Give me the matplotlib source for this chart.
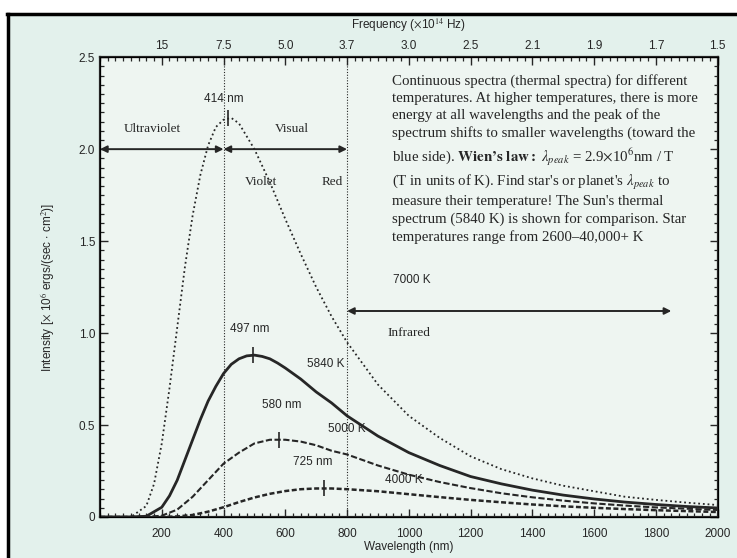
import matplotlib.pyplot as plt
from matplotlib.lines import Line2D
from matplotlib.patches import Rectangle
from matplotlib.ticker import MultipleLocator

# wavelengths (nm) and intensities
wl_7000 = [0, 100, 150, 175, 200, 225, 250, 275, 300, 325, 350, 375, 400, 425, 450, 500, 550, 600,
           650, 700, 750, 800, 900, 1000, 1100, 1200, 1300, 1400, 1500, 1600, 1700, 1800, 1900, 2000]
t7000 = [0.0, 0.0, 0.06, 0.18, 0.40, 0.70, 1.03, 1.36, 1.64, 1.86, 2.02, 2.12, 2.16, 2.17, 2.14, 2.00,
         1.82, 1.62, 1.43, 1.25, 1.09, 0.95, 0.72, 0.55, 0.43, 0.33, 0.26, 0.21, 0.17, 0.14, 0.11,
         0.093, 0.078, 0.065]
wl_5840 = [0, 100, 150, 200, 225, 250, 275, 300, 325, 350, 375, 400, 425, 450, 475, 500, 525, 550,
           575, 600, 650, 700, 750, 800, 900, 1000, 1100, 1200, 1300, 1400, 1500, 1600, 1700, 1800,
           1900, 2000]
t5840 = [0.0, 0.0, 0.004, 0.053, 0.115, 0.20, 0.31, 0.42, 0.53, 0.63, 0.71, 0.78, 0.83, 0.86, 0.876,
         0.88, 0.873, 0.86, 0.837, 0.81, 0.75, 0.68, 0.62, 0.55, 0.44, 0.35, 0.28, 0.22, 0.18, 0.146,
         0.119, 0.098, 0.081, 0.068, 0.057, 0.049]
wavelength = [0, 100, 150, 200, 250, 300, 350, 400, 450, 500, 550, 600, 650, 700, 750,
              800, 900, 1000, 1100, 1200, 1300, 1400, 1500, 1600, 1700, 1800, 1900, 2000]
t5000 = [0.0, 0.0, 0.0, 0.007, 0.04, 0.11, 0.20, 0.29, 0.35, 0.40, 0.42, 0.42, 0.41, 0.39, 0.36,
         0.34, 0.28, 0.23, 0.19, 0.157, 0.129, 0.107, 0.089, 0.074, 0.062, 0.052, 0.045, 0.038]
t4000 = [0.0, 0.0, 0.0, 0.0, 0.003, 0.011, 0.029, 0.053, 0.081, 0.106, 0.126, 0.141, 0.151, 0.155, 0.155,
         0.151, 0.140, 0.124, 0.108, 0.093, 0.080, 0.068, 0.058, 0.050, 0.043, 0.037, 0.032, 0.027]

peak_nm = [414, 497, 580, 725]
peak_val = [2.17, 0.88, 0.42, 0.155]
peak_labels = ["414 nm", "497 nm", "580 nm", "725 nm"]
temp_labels = ["7000 K", "5840 K", "5000 K", "4000 K"]

bottom_ticks = [200, 400, 600, 800, 1000, 1200, 1400, 1600, 1800, 2000]
top_labels = ["15", "7.5", "5.0", "3.7", "3.0", "2.5", "2.1", "1.9", "1.7", "1.5"]
y_ticks = [0, 0.5, 1.0, 1.5, 2.0, 2.5]
y_labels = ["0", "0.5", "1.0", "1.5", "2.0", "2.5"]

ink = "#262626"
plt.rcParams["font.family"] = ["Liberation Sans", "DejaVu Sans"]
plt.rcParams["mathtext.fontset"] = "stix"

fig = plt.figure(figsize=(7.37, 5.58), dpi=100, facecolor="#e3f1ec")
ax = fig.add_axes([0.1357, 0.0735, 0.838, 0.824], facecolor="#eef5f1")

# curves
ax.plot(wl_7000, t7000, color=ink, lw=1.3, ls=(0, (1, 1.6)))
ax.plot(wl_5840, t5840, color=ink, lw=2.0, ls="-")
ax.plot(wavelength, t5000, color=ink, lw=1.5, ls=(0, (3, 1.2)))
ax.plot(wavelength, t4000, color=ink, lw=1.8, ls=(0, (2, 1)))

# peak markers and labels
ax.plot(peak_nm, peak_val, ls="none", marker="|", ms=12, mew=1.2, color=ink)
peak_text_pos = [(400, 2.27), (485, 1.02), (590, 0.61), (690, 0.30)]
for (x, y), lab in zip(peak_text_pos, peak_labels):
    ax.text(x, y, lab, fontsize=8.5, color=ink, ha="center", va="center")
temp_text_pos = [(1010, 1.29), (730, 0.83), (800, 0.48), (985, 0.20)]
for (x, y), lab in zip(temp_text_pos, temp_labels):
    ax.text(x, y, lab, fontsize=8.5, color=ink, ha="center", va="center")

# visible band boundaries
for xv in (400, 800):
    ax.axvline(xv, color=ink, lw=0.8, ls=(0, (1, 1.5)))

arrow = dict(arrowstyle="<|-|>", color=ink, lw=1.4, mutation_scale=10, shrinkA=0, shrinkB=0)
ax.annotate("", xy=(0, 2.0), xytext=(400, 2.0), arrowprops=arrow)
ax.annotate("", xy=(400, 2.0), xytext=(800, 2.0), arrowprops=arrow)
ax.annotate("", xy=(800, 1.12), xytext=(1850, 1.12), arrowprops=arrow)

serif = ["Liberation Serif", "DejaVu Serif"]
ax.text(170, 2.11, "Ultraviolet", fontsize=9.5, family=serif, color=ink, ha="center", va="center")
ax.text(620, 2.11, "Visual", fontsize=9.5, family=serif, color=ink, ha="center", va="center")
ax.text(520, 1.82, "Violet", fontsize=9.5, family=serif, color=ink, ha="center", va="center")
ax.text(752, 1.82, "Red", fontsize=9.5, family=serif, color=ink, ha="center", va="center")
ax.text(1000, 1.00, "Infrared", fontsize=9.5, family=serif, color=ink, ha="center", va="center")

note = ("Continuous spectra (thermal spectra) for different\n"
        "temperatures. At higher temperatures, there is more\n"
        "energy at all wavelengths and the peak of the\n"
        "spectrum shifts to smaller wavelengths (toward the\n"
        "blue side). $\\mathbf{Wien\u2019s\\ law:}$ $\\lambda_{peak}$ = 2.9$\\times$10$^6$nm / T\n"
        "(T in units of K). Find star's or planet's $\\lambda_{peak}$ to\n"
        "measure their temperature! The Sun's thermal\n"
        "spectrum (5840 K) is shown for comparison. Star\n"
        "temperatures range from 2600\u201340,000+ K")
ax.text(945, 2.41, note, fontsize=10.7, family=serif, color=ink, ha="left", va="top",
        linespacing=1.38)

# axes, ticks
ax.set_xlim(0, 2000)
ax.set_ylim(0, 2.5)
ax.set_xticks(bottom_ticks)
ax.set_yticks(y_ticks)
ax.set_yticklabels(y_labels)
ax.xaxis.set_minor_locator(MultipleLocator(25))
ax.yaxis.set_minor_locator(MultipleLocator(0.05))
ax.tick_params(which="both", direction="in", right=True, colors=ink, labelsize=8.5)
ax.tick_params(which="major", length=6, width=1.0)
ax.tick_params(which="minor", length=3, width=0.9)
ax.tick_params(axis="x", pad=8)
for sp in ax.spines.values():
    sp.set_linewidth(1.6)
    sp.set_color(ink)
ax.set_xlabel("Wavelength (nm)", fontsize=8.5, color=ink, labelpad=1)
ax.set_ylabel(r"Intensity [$\times$ 10$^6$ ergs/(sec $\cdot$ cm$^2$)]", fontsize=8.5, color=ink,
              labelpad=16)

top = ax.twiny()
top.set_xlim(ax.get_xlim())
top.set_xticks(bottom_ticks)
top.set_xticklabels(top_labels)
top.xaxis.set_minor_locator(MultipleLocator(25))
top.tick_params(which="both", direction="in", colors=ink, labelsize=8.5)
top.tick_params(which="major", length=6, width=1.0)
top.tick_params(which="minor", length=3, width=0.9)
top.set_xlabel(r"Frequency ($\times$10$^{14}$ Hz)", fontsize=8.5, color=ink, labelpad=8)

# photo frame: white margin with black edge at top and left
fig.patches.append(Rectangle((0, 1 - 13 / 558), 1, 13 / 558, transform=fig.transFigure,
                             facecolor="white", edgecolor="none", zorder=5))
fig.patches.append(Rectangle((0, 0), 7 / 737, 1, transform=fig.transFigure,
                             facecolor="white", edgecolor="none", zorder=5))
fig.lines.append(Line2D([7 / 737, 1], [1 - 14 / 558, 1 - 14 / 558], transform=fig.transFigure,
                        color="black", lw=2.5, zorder=6))
fig.lines.append(Line2D([8 / 737, 8 / 737], [0, 1 - 14 / 558], transform=fig.transFigure,
                        color="black", lw=2.5, zorder=6))

fig.savefig("out.png", dpi=100, facecolor=fig.get_facecolor())
